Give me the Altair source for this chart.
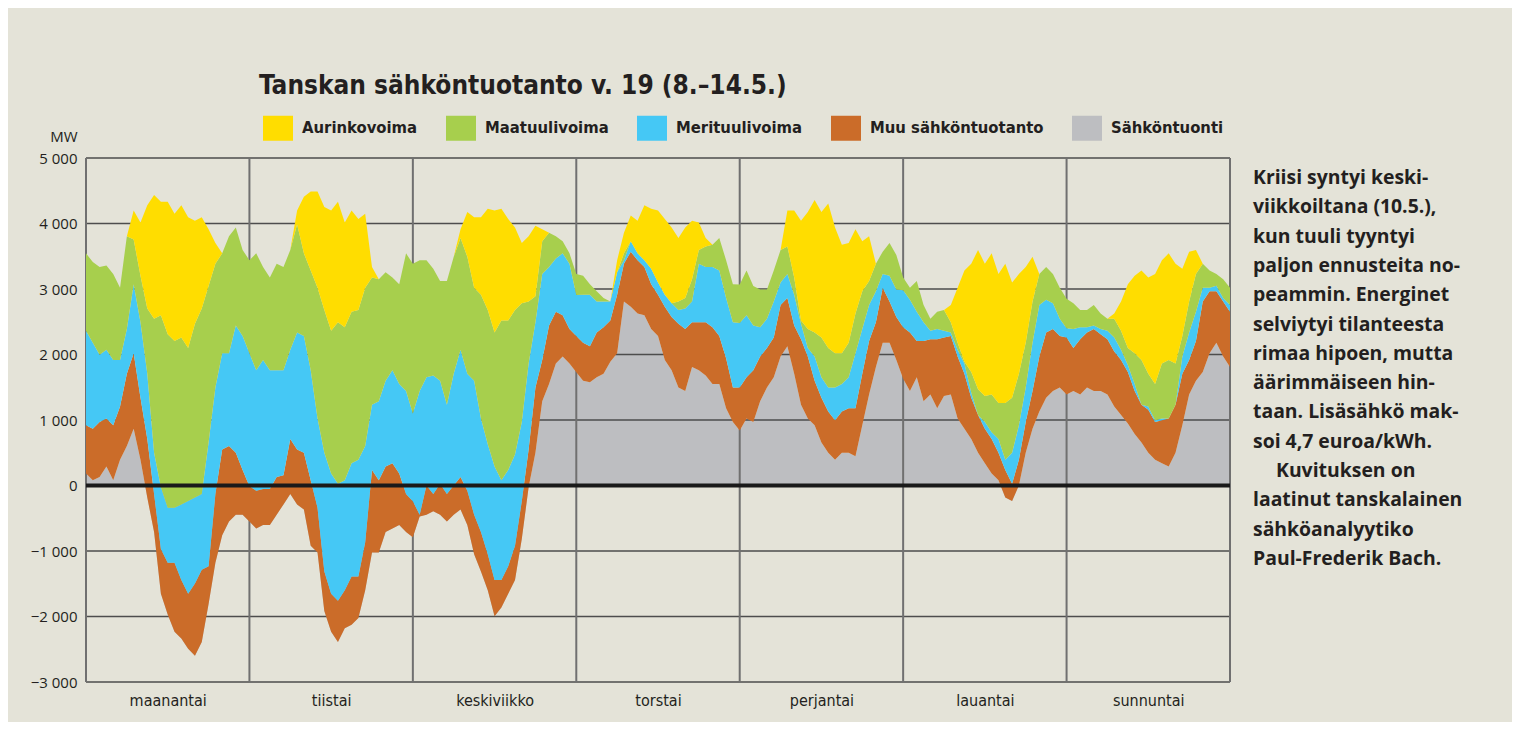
import altair as alt
import pandas as pd

# ---------------- data: hourly levels (MW) from Monday 00:00 to Sunday 24:00 ----------------
# Each list is the upper edge of a band (band order from bottom:
# import, other production, offshore wind, onshore wind, solar).
paivat = ["maanantai", "tiistai", "keskiviikko", "torstai", "perjantai", "lauantai", "sunnuntai"]
tunnit = list(range(0, 169))

taso_tuonti = [
    184, 79, 131, 289, 79, 394, 604, 866, 394, -184, -709, -1654, -1969, -2231, -2336, -2494, -2599, -2389, -1811, -1181, -761, -551, -446, -446, -550,
    -656, -604, -604, -446, -289, -131, -289, -368, -919, -1024, -1916, -2231, -2389, -2179, -2126, -2021, -1601, -1024, -1024, -709, -656, -604, -709, -790,
    -472, -446, -394, -446, -551, -446, -368, -604, -1050, -1313, -1601, -1995, -1863, -1654, -1444, -814, -26, 499, 1286, 1549, 1863, 1969, 1863, 1730,
    1601, 1575, 1654, 1706, 1890, 2021, 2809, 2730, 2625, 2599, 2389, 2284, 1916, 1759, 1496, 1444, 1811, 1759, 1680, 1549, 1549, 1181, 971, 840,
    1024, 971, 1286, 1496, 1654, 1969, 2126, 1706, 1233, 1024, 919, 656, 499, 394, 499, 499, 446, 919, 1391, 1811, 2179, 2179, 1916, 1630,
    1444, 1654, 1286, 1391, 1181, 1365, 1391, 1024, 866, 709, 499, 341, 184, 79, -184, -236, 0, 499, 866, 1129, 1339, 1444, 1496, 1391,
    1444, 1391, 1496, 1444, 1444, 1391, 1208, 1076, 945, 788, 656, 499, 394, 341, 289, 499, 919, 1391, 1601, 1733, 2021, 2179, 1969, 1811]
taso_muu = [
    919, 866, 971, 1024, 919, 1208, 1706, 2021, 1339, 709, -131, -971, -1181, -1181, -1444, -1654, -1496, -1286, -1234, -131, 551, 604, 499, 236, -10,
    -79, -52, -52, 131, 158, 709, 551, 499, 79, -341, -1313, -1654, -1759, -1601, -1391, -1391, -866, 236, 79, 289, 341, 184, -131, -240,
    -446, 0, -131, 26, -131, 0, 131, -79, -446, -709, -1050, -1444, -1444, -1234, -919, -236, 551, 1496, 1916, 2441, 2651, 2599, 2389, 2284,
    2179, 2126, 2336, 2415, 2520, 2914, 3386, 3570, 3439, 3334, 3071, 2914, 2730, 2573, 2468, 2389, 2494, 2494, 2494, 2415, 2284, 1943, 1496, 1496,
    1654, 1759, 1969, 2100, 2258, 2756, 2861, 2441, 2231, 1969, 1601, 1339, 1129, 998, 1129, 1181, 1181, 1706, 2205, 2494, 3019, 2809, 2573, 2415,
    2336, 2205, 2205, 2231, 2231, 2258, 2284, 1969, 1706, 1339, 1076, 866, 709, 499, 236, 26, 394, 971, 1444, 1969, 2336, 2389, 2284, 2260,
    2100, 2231, 2336, 2389, 2310, 2231, 2047, 1916, 1733, 1444, 1234, 1155, 971, 998, 1024, 1234, 1706, 1916, 2205, 2809, 2966, 2966, 2809, 2651]
taso_meri = [
    2363, 2179, 1995, 2074, 1916, 1916, 2389, 3071, 2494, 1706, 499, -26, -341, -341, -289, -236, -184, -131, 656, 1496, 2021, 2021, 2441, 2284, 2020,
    1759, 1916, 1759, 1759, 1759, 2074, 2336, 2284, 1759, 1024, 499, 184, 26, 79, 341, 394, 604, 1234, 1286, 1601, 1759, 1549, 1444, 1100,
    1444, 1654, 1680, 1601, 1234, 1706, 2074, 1706, 1601, 1024, 630, 289, 79, 236, 473, 971, 1863, 2494, 3229, 3334, 3465, 3544, 3386, 2910,
    2914, 2914, 2809, 2809, 2809, 3255, 3439, 3728, 3544, 3440, 3308, 3098, 2914, 2783, 2678, 2704, 2809, 3386, 3334, 3334, 3281, 2861, 2494, 2480,
    2599, 2441, 2415, 2546, 2809, 3098, 3229, 2914, 2468, 2100, 1969, 1654, 1496, 1496, 1549, 1654, 2021, 2389, 2756, 2966, 3229, 3203, 2993, 2980,
    2835, 2651, 2494, 2363, 2389, 2363, 2336, 2074, 1863, 1420, 1076, 971, 814, 709, 394, 499, 919, 1496, 2179, 2756, 2835, 2783, 2546, 2400,
    2389, 2415, 2415, 2441, 2389, 2363, 2258, 2074, 1838, 1549, 1234, 1208, 998, 1024, 1024, 1234, 1969, 2336, 2651, 3019, 3019, 3050, 2861, 2756]
taso_maa = [
    3544, 3412, 3334, 3360, 3229, 3019, 3806, 3754, 3203, 2704, 2546, 2599, 2310, 2205, 2258, 2100, 2468, 2704, 3045, 3386, 3544, 3806, 3938, 3596, 3440,
    3544, 3334, 3176, 3386, 3334, 3596, 3990, 3544, 3281, 3019, 2678, 2363, 2494, 2415, 2651, 2678, 3019, 3176, 3150, 3255, 3176, 3071, 3544, 3386,
    3439, 3439, 3308, 3124, 3124, 3491, 3780, 3491, 3019, 2914, 2678, 2336, 2520, 2520, 2678, 2783, 2809, 2888, 3728, 3859, 3806, 3728, 3544, 3229,
    3203, 3071, 2966, 2861, 2809, 3255, 3544, 3728, 3544, 3440, 3308, 3098, 2914, 2783, 2809, 2861, 3150, 3596, 3649, 3675, 3780, 3439, 3071, 3070,
    3281, 3045, 2993, 2993, 3281, 3596, 3649, 3176, 2520, 2389, 2336, 2258, 2100, 2021, 2021, 2179, 2625, 2966, 3124, 3386, 3570, 3701, 3518, 3175,
    3019, 3124, 2756, 2546, 2651, 2678, 2494, 2179, 1890, 1733, 1470, 1365, 1391, 1260, 1260, 1339, 1706, 2179, 2809, 3229, 3334, 3229, 3019, 2850,
    2783, 2678, 2678, 2756, 2625, 2546, 2546, 2363, 2100, 2021, 1916, 1706, 1549, 1864, 1916, 1864, 2284, 2809, 3229, 3386, 3281, 3229, 3150, 3019]
taso_aurinko = [
    3544, 3412, 3334, 3360, 3229, 3019, 3806, 4200, 4016, 4279, 4436, 4331, 4331, 4148, 4279, 4095, 4043, 4095, 3911, 3701, 3544, 3806, 3938, 3596, 3440,
    3544, 3334, 3176, 3386, 3334, 3596, 4200, 4410, 4489, 4489, 4253, 4200, 4331, 4016, 4200, 4069, 4148, 3334, 3150, 3255, 3176, 3071, 3544, 3386,
    3439, 3439, 3308, 3124, 3124, 3491, 3911, 4174, 4095, 4095, 4226, 4200, 4226, 4069, 3938, 3701, 3806, 3964, 3911, 3859, 3806, 3728, 3544, 3229,
    3203, 3071, 2966, 2861, 2809, 3439, 3859, 4121, 4043, 4279, 4226, 4200, 4069, 3938, 3780, 3938, 4043, 4016, 3780, 3675, 3780, 3439, 3071, 3070,
    3281, 3045, 2993, 2993, 3281, 3596, 4200, 4200, 4043, 4174, 4358, 4174, 4305, 3938, 3675, 3701, 3911, 3728, 3806, 3386, 3570, 3701, 3518, 3175,
    3019, 3124, 2756, 2546, 2651, 2678, 2756, 3019, 3281, 3386, 3596, 3386, 3544, 3229, 3386, 3098, 3229, 3334, 3491, 3229, 3334, 3229, 3019, 2850,
    2783, 2678, 2678, 2756, 2625, 2546, 2625, 2809, 3071, 3203, 3281, 3176, 3229, 3439, 3544, 3386, 3308, 3570, 3596, 3386, 3281, 3229, 3150, 3019]

sarjat = ["Aurinkovoima", "Maatuulivoima", "Merituulivoima", "Muu sähköntuotanto", "Sähköntuonti"]
varit = ["#FFDD00", "#A7CF4D", "#45C8F5", "#CB6C29", "#BDBEC1"]
y_arvot = list(range(-3000, 5001, 1000))
paivarajat = list(range(0, 169, 24))
paivakeskit = [24 * i + 12 for i in range(7)]

otsikko = "Tanskan sähköntuotanto v. 19 (8.–14.5.)"
sivuteksti_a = ["Kriisi syntyi keski-", "viikkoiltana (10.5.),", "kun tuuli tyyntyi",
                "paljon ennusteita no-", "peammin. Energinet", "selviytyi tilanteesta",
                "rimaa hipoen, mutta", "äärimmäiseen hin-", "taan. Lisäsähkö mak-",
                "soi 4,7 euroa/kWh."]
sivuteksti_b = "Kuvituksen on"
sivuteksti_c = ["laatinut tanskalainen", "sähköanalyytiko", "Paul-Frederik Bach."]

# ---------------- band table ----------------
rows = []
for i, h in enumerate(tunnit):
    b0 = taso_tuonti[i]
    b1 = max(taso_muu[i], b0)
    b2 = max(taso_meri[i], b1)
    b3 = max(taso_maa[i], b2)
    b4 = max(taso_aurinko[i], b3)
    rows += [
        {"h": h, "sarja": "Sähköntuonti", "ala": 0, "yla": b0},
        {"h": h, "sarja": "Muu sähköntuotanto", "ala": b0, "yla": b1},
        {"h": h, "sarja": "Merituulivoima", "ala": b1, "yla": b2},
        {"h": h, "sarja": "Maatuulivoima", "ala": b2, "yla": b3},
        {"h": h, "sarja": "Aurinkovoima", "ala": b3, "yla": b4},
    ]
df = pd.DataFrame(rows)

BG = "#E4E3D8"
INK = "#231F20"
COND = "DejaVu Sans Condensed, DejaVu Sans, sans-serif"
W, H = 1144, 524
LH = 29.3

xs = alt.Scale(domain=[0, 168], nice=False, zero=False)
ys = alt.Scale(domain=[-3000, 5000], nice=False, zero=False)
cs = alt.Scale(domain=sarjat, range=varit)

nimet_js = "[" + ",".join("'" + p + "'" for p in paivat) + "]"

x_axis = alt.Axis(values=paivakeskit, labelExpr=nimet_js + "[floor(datum.value / 24)]",
                  ticks=False, domain=False, grid=False, title=None,
                  labelFont=COND, labelFontSize=16, labelColor=INK, labelPadding=10)
y_axis = alt.Axis(values=y_arvot, labelExpr="replace(format(datum.value, ',d'), ',', ' ')",
                  ticks=False, domain=False, grid=False, title="MW", titleAngle=0,
                  titleX=-9, titleY=-17, titleAlign="right", titleBaseline="alphabetic",
                  titleFont="Open Sans", titleFontSize=15, titleFontWeight="normal", titleColor=INK,
                  labelFont="Open Sans", labelFontSize=15, labelColor=INK, labelPadding=9)

legend = alt.Legend(orient="none", legendX=177, legendY=-45, direction="horizontal", columns=5,
                    title=None, padding=0,
                    symbolType="M-1,-0.833L1,-0.833L1,0.833L-1,0.833Z", symbolSize=900,
                    symbolStrokeWidth=0, symbolOpacity=1,
                    labelFont=COND, labelFontSize=16.5, labelFontWeight="bold", labelColor=INK,
                    labelOffset=9, columnPadding=28, labelLimit=0)

X = alt.X("h:Q", scale=xs, axis=x_axis)

gray = alt.Chart(df).transform_filter(alt.datum.sarja == "Sähköntuonti").mark_area(
    interpolate="linear", opacity=1).encode(
    x=X,
    y=alt.Y("ala:Q", scale=ys, axis=y_axis, stack=False),
    y2="yla:Q",
    color=alt.Color("sarja:N", scale=cs, legend=legend),
)

grid = alt.Chart(pd.DataFrame({"ala": y_arvot})).mark_rule(color="#4D4D4D", strokeWidth=1.3).encode(
    y=alt.Y("ala:Q", scale=ys, axis=y_axis))

vlines = alt.Chart(pd.DataFrame({"h": paivarajat})).mark_rule(color="#707070", strokeWidth=2).encode(
    x=X)

bands = alt.Chart(df).transform_filter(alt.datum.sarja != "Sähköntuonti").mark_area(
    interpolate="linear", opacity=1).encode(
    x=X,
    y=alt.Y("ala:Q", scale=ys, axis=y_axis, stack=False),
    y2="yla:Q",
    color=alt.Color("sarja:N", scale=cs, legend=legend),
)

zero = alt.Chart(pd.DataFrame({"ala": [0]})).mark_rule(color="#1A1A1A", strokeWidth=4).encode(
    y=alt.Y("ala:Q", scale=ys, axis=y_axis))

title = alt.Chart(pd.DataFrame({"t": [otsikko]})).mark_text(
    align="left", baseline="alphabetic", font=COND, fontSize=26, fontWeight="bold", color=INK).encode(
    x=alt.value(173), y=alt.value(-64), text="t:N")

side_style = dict(align="left", baseline="alphabetic", font="Open Sans", fontSize=19.4,
                  fontWeight="bold", color=INK, lineHeight=LH)

side_a = alt.Chart(pd.DataFrame({"t": [0]})).mark_text(**side_style).encode(
    x=alt.value(1167), y=alt.value(26), text=alt.value(sivuteksti_a))
side_b = alt.Chart(pd.DataFrame({"t": [0]})).mark_text(**side_style).encode(
    x=alt.value(1190), y=alt.value(26 + 10 * LH), text=alt.value(sivuteksti_b))
side_c = alt.Chart(pd.DataFrame({"t": [0]})).mark_text(**side_style).encode(
    x=alt.value(1167), y=alt.value(26 + 11 * LH), text=alt.value(sivuteksti_c))

chart = alt.layer(gray, grid, vlines, bands, zero, title, side_a, side_b, side_c).properties(
    width=W, height=H,
    autosize=alt.AutoSizeParams(type="none"),
    padding={"left": 78, "top": 150, "right": 282, "bottom": 40},
    background=BG,
).configure_view(stroke=None)

chart.save("out.html", embed_options={"renderer": "svg", "actions": False})
